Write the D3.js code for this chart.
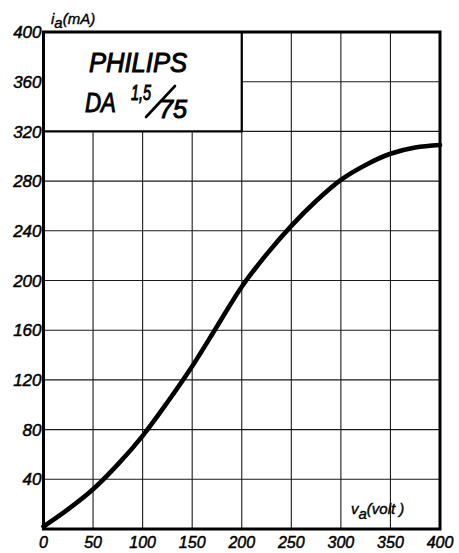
<!DOCTYPE html>
<html><head><meta charset="utf-8">
<script src="https://cdn.jsdelivr.net/npm/d3@7"></script>
<style>html,body{margin:0;padding:0;background:#fff;}svg{display:block;}</style>
</head><body>
<script>
// Data
const voltage = [0, 25, 50, 75, 100, 125, 150, 175, 200, 225, 250, 275, 300, 325, 350, 375, 400];
const current = [2, 16, 32, 52, 75, 102, 131, 163, 195, 221, 244, 264, 281, 293, 302, 307, 309];
const xTicks = [0, 50, 100, 150, 200, 250, 300, 350, 400];
const yTicks = [40, 80, 120, 160, 200, 240, 280, 320, 360, 400];
const yGrid = [40, 80, 120, 160, 200, 240, 280, 320, 360];
const titleBox = {x0: 0, x1: 200, y0: 320, y1: 400};

const W = 459, H = 553;
const svg = d3.select("body").append("svg").attr("width", W).attr("height", H);
const x = d3.scaleLinear().domain([0, 400]).range([43.5, 440]);
const y = d3.scaleLinear().domain([0, 400]).range([529, 32]);
const font = "'Liberation Sans', Arial, sans-serif";

// grid
const g = svg.append("g");
g.selectAll("line.vx").data(xTicks.slice(1, -1)).join("line")
  .attr("x1", d => x(d)).attr("x2", d => x(d)).attr("y1", y(0)).attr("y2", y(400))
  .attr("stroke", "#1a1a1a").attr("stroke-width", 1.1);
g.selectAll("line.hy").data(yGrid).join("line")
  .attr("y1", d => y(d)).attr("y2", d => y(d)).attr("x1", x(0)).attr("x2", x(400))
  .attr("stroke", "#1a1a1a").attr("stroke-width", 1.1);

// title box
svg.append("rect").attr("x", x(titleBox.x0)).attr("y", y(titleBox.y1))
  .attr("width", x(titleBox.x1) - x(titleBox.x0)).attr("height", y(titleBox.y0) - y(titleBox.y1))
  .attr("fill", "#fff");
svg.append("path")
  .attr("d", `M${x(titleBox.x0)},${y(titleBox.y0)}H${x(titleBox.x1)}V${y(titleBox.y1)}`)
  .attr("fill", "none").attr("stroke", "#000").attr("stroke-width", 2.2);

// frame
svg.append("rect").attr("x", x(0)).attr("y", y(400)).attr("width", x(400) - x(0)).attr("height", y(0) - y(400))
  .attr("fill", "none").attr("stroke", "#000").attr("stroke-width", 3);

// curve
const pts = voltage.map((v, i) => [v, current[i]]);
svg.append("path").datum(pts)
  .attr("d", d3.line().x(d => x(d[0])).y(d => y(d[1])).curve(d3.curveCatmullRom.alpha(0.5)))
  .attr("fill", "none").attr("stroke", "#000").attr("stroke-width", 4.6).attr("stroke-linecap", "round");

// tick labels
svg.selectAll("text.yl").data(yTicks).join("text")
  .attr("x", x(0) - 2).attr("y", d => y(d)).attr("dy", "0.36em")
  .attr("text-anchor", "end").attr("font-family", font).attr("font-style", "italic")
  .attr("font-size", 17).attr("fill", "#000").attr("stroke", "#000").attr("stroke-width", 0.5)
  .text(d => d);
svg.selectAll("text.xl").data(xTicks).join("text")
  .attr("x", d => x(d)).attr("y", 548)
  .attr("text-anchor", "middle").attr("font-family", font).attr("font-style", "italic")
  .attr("font-size", 16).attr("fill", "#000").attr("stroke", "#000").attr("stroke-width", 0.5)
  .text(d => d);

// axis titles
const yt = svg.append("text").attr("x", 51).attr("y", 24).attr("font-family", font)
  .attr("font-style", "italic").attr("font-size", 15).attr("fill", "#000")
  .attr("stroke", "#000").attr("stroke-width", 0.4);
yt.append("tspan").text("i");
yt.append("tspan").attr("dy", 4).text("a");
yt.append("tspan").attr("dy", -4).text("(mA)");
const xt = svg.append("text").attr("x", 351).attr("y", 514).attr("font-family", font)
  .attr("font-style", "italic").attr("font-size", 15).attr("fill", "#000")
  .attr("stroke", "#000").attr("stroke-width", 0.4);
xt.append("tspan").text("v");
xt.append("tspan").attr("dy", 5).text("a");
xt.append("tspan").attr("dy", -5).text("(volt )");

// title text
const tf = {"font-family": font, "font-style": "italic", "font-weight": "normal", "fill": "#000", "stroke": "#000", "stroke-width": 1};
function T(txt, px, py, size, len) {
  const t = svg.append("text").attr("x", px).attr("y", py).attr("font-size", size).text(txt);
  Object.entries(tf).forEach(([k, v]) => t.attr(k, v));
  if (len) t.attr("textLength", len).attr("lengthAdjust", "spacingAndGlyphs");
  return t;
}
T("PHILIPS", 89, 72, 27, 98);
T("DA", 85, 112, 27, 31);
T("1,5", 131, 100, 22, 20);
T("75", 159, 118, 25, 28);
svg.append("line").attr("x1", 146).attr("y1", 117).attr("x2", 175).attr("y2", 86)
  .attr("stroke", "#000").attr("stroke-width", 2.6).attr("stroke-linecap", "round");
</script>
</body></html>
